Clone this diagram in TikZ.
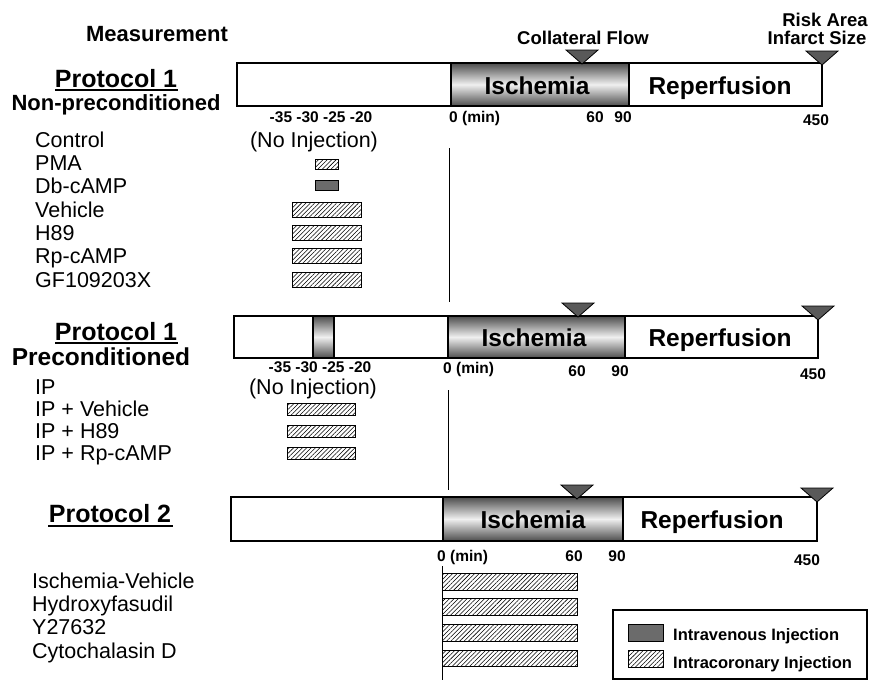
\documentclass[tikz,border=0pt]{standalone}
\usepackage{fontspec}
\setmainfont{Liberation Sans}
\usetikzlibrary{patterns.meta}
\newcommand\fsz[1]{\fontsize{#1}{#1}\selectfont}
\newcommand\tri[2]{\filldraw[mk] ({#1-16},#2) -- ({#1+16},#2) -- (#1,{#2+14}) -- cycle;}
\tikzset{
  barframe/.style={draw=black, line width=1.4pt},
  isch/.style={top color=black!70, bottom color=black!70, middle color=black!6},
  mk/.style={fill=black!65, draw=black, line width=0.8pt},
  hatch/.style={draw=black, line width=0.9pt, pattern={Lines[angle=45,distance=3.1pt,line width=0.55pt]}},
  ivbox/.style={draw=black, line width=0.9pt, fill=black!58},
  grp/.style={anchor=base west, inner sep=0pt, font=\fsz{21.5}},
  ttl/.style={anchor=base, inner sep=0pt, font=\bfseries\fsz{25}},
  sub/.style={anchor=base, inner sep=0pt, font=\bfseries\fsz{22}},
  num/.style={anchor=base, inner sep=0pt, font=\bfseries\fsz{15.5}},
  phase/.style={anchor=base, inner sep=0pt, font=\bfseries\fsz{24.5}},
  meas/.style={anchor=base, inner sep=0pt, font=\bfseries\fsz{18.5}},
  leg/.style={anchor=base west, inner sep=0pt, font=\bfseries\fsz{16.5}},
  vline/.style={line width=0.8pt},
  uline/.style={line width=1.3pt},
}
\begin{document}
\begin{tikzpicture}[x=1pt,y=-1pt]
\useasboundingbox[fill=white] (0,0) rectangle (876,680);

% ---------- headings ----------
\node[sub] (meas) at (157,41) {Measurement};
\node[meas] (coll) at (583,45) {Collateral Flow};
\node[meas] (risk) at (825,27) {Risk Area};
\node[meas] (inf) at (817,45) {Infarct Size};

% ---------- Panel 1 : non-preconditioned ----------
\node[ttl] (p1) at (116,87) {Protocol 1};
\draw[uline] (55,90) -- (178,90);
\node[sub] (p1s) at (116,110) {Non-preconditioned};

\draw[barframe, fill=white] (237,63) rectangle (822,106);
\shade[isch] (451,63) rectangle (629,106);
\draw[barframe] (237,63) rectangle (822,106);
\draw[barframe] (451,63) -- (451,106) (629,63) -- (629,106);
\node[phase] (is1) at (537,94) {Ischemia};
\node[phase] (re1) at (720,94) {Reperfusion};
\tri{582}{50}
\tri{822}{51}

\node[num] (t1a) at (321,122) {-35 -30 -25 -20};
\node[num, anchor=base west] (t1b) at (449,122) {0 (min)};
\node[num] (t1c) at (595,122) {60};
\node[num] (t1d) at (623,122) {90};
\node[num] (t1e) at (816,125) {450};
\draw[vline] (449,148) -- (449,302);

\node[grp] (g1) at (35,147) {Control};
\node[grp] (g2) at (35,170) {PMA};
\node[grp] (g3) at (35,193) {Db-cAMP};
\node[grp] (g4) at (35,217) {Vehicle};
\node[grp] (g5) at (35,240) {H89};
\node[grp] (g6) at (35,263) {Rp-cAMP};
\node[grp] (g7) at (35,287) {GF109203X};
\node[grp, anchor=base] (ni1) at (314,147) {(No Injection)};

\draw[hatch] (315,159) rectangle (338,169);
\draw[ivbox] (315,180) rectangle (338,190);
\draw[hatch] (292,202) rectangle (361,217);
\draw[hatch] (292,225) rectangle (361,240);
\draw[hatch] (292,248) rectangle (361,263);
\draw[hatch] (292,272) rectangle (361,287);

% ---------- Panel 2 : preconditioned ----------
\node[ttl] (p2) at (116,340) {Protocol 1};
\draw[uline] (55,343) -- (178,343);
\node[sub, font=\bfseries\fsz{24.5}] (p2s) at (101,365) {Preconditioned};

\draw[barframe, fill=white] (234,316) rectangle (818,358);
\shade[isch] (313,316) rectangle (334,358);
\shade[isch] (448,316) rectangle (625,358);
\draw[barframe] (234,316) rectangle (818,358);
\draw[barframe] (313,316) -- (313,358) (334,316) -- (334,358)
                (448,316) -- (448,358) (625,316) -- (625,358);
\node[phase] (is2) at (534,346) {Ischemia};
\node[phase] (re2) at (720,346) {Reperfusion};
\tri{578}{303}
\tri{818}{306}

\node[num] (t2a) at (320,372) {-35 -30 -25 -20};
\node[num, anchor=base west] (t2b) at (443,373) {0 (min)};
\node[num] (t2c) at (577,376) {60};
\node[num] (t2d) at (620,376) {90};
\node[num] (t2e) at (813,379) {450};
\draw[vline] (448,390) -- (448,490);

\node[grp] (h1) at (35,394) {IP};
\node[grp] (h2) at (35,416) {IP + Vehicle};
\node[grp] (h3) at (35,438) {IP + H89};
\node[grp] (h4) at (35,460) {IP + Rp-cAMP};
\node[grp, anchor=base] (ni2) at (313,394) {(No Injection)};

\draw[hatch] (287,403) rectangle (355,415);
\draw[hatch] (287,425) rectangle (355,437);
\draw[hatch] (287,447) rectangle (355,459);

% ---------- Panel 3 : protocol 2 ----------
\node[ttl] (p3) at (110,522) {Protocol 2};
\draw[uline] (48,526) -- (173,526);

\draw[barframe, fill=white] (231,497) rectangle (817,541);
\shade[isch] (443,497) rectangle (623,541);
\draw[barframe] (231,497) rectangle (817,541);
\draw[barframe] (443,497) -- (443,541) (623,497) -- (623,541);
\node[phase] (is3) at (533,528) {Ischemia};
\node[phase] (re3) at (712,528) {Reperfusion};
\tri{577}{485}
\tri{817}{488}

\node[num, anchor=base west] (t3b) at (437,561) {0 (min)};
\node[num] (t3c) at (574,561) {60};
\node[num] (t3d) at (617,561) {90};
\node[num] (t3e) at (807,565) {450};
\draw[vline] (442,566) -- (442,680);

\node[grp] (k1) at (32,588) {Ischemia-Vehicle};
\node[grp] (k2) at (32,611) {Hydroxyfasudil};
\node[grp] (k3) at (32,634) {Y27632};
\node[grp] (k4) at (32,658) {Cytochalasin D};

\draw[hatch] (442,573) rectangle (577,590);
\draw[hatch] (442,598) rectangle (577,615);
\draw[hatch] (442,624) rectangle (577,641);
\draw[hatch] (442,650) rectangle (577,666);

% ---------- legend ----------
\draw[line width=1.2pt, fill=white] (613,610) rectangle (867,679);
\draw[ivbox] (628,624) rectangle (663,641);
\draw[hatch] (628,650) rectangle (663,667);
\node[leg] (l1) at (673,640) {Intravenous Injection};
\node[leg] (l2) at (673,668) {Intracoronary Injection};
\end{tikzpicture}
\end{document}
